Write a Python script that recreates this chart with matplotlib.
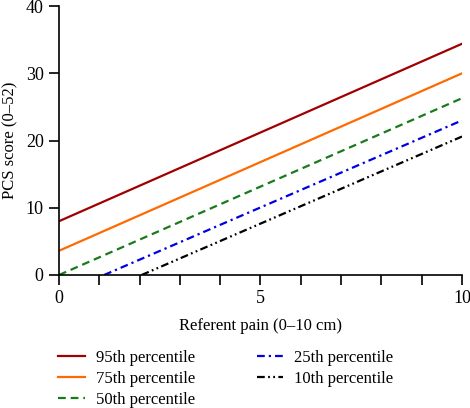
import matplotlib
matplotlib.use("Agg")
import matplotlib.pyplot as plt
from matplotlib.ticker import MultipleLocator

plt.rcParams['font.family'] = ['Liberation Serif', 'DejaVu Serif']

labels = ["95th percentile", "75th percentile", "50th percentile", "25th percentile", "10th percentile"]
x_start = [0.0, 0.0, 0.0, 1.12, 2.05]
y_start = [8.0, 3.6, 0.0, 0.0, 0.0]
x_end = [10.0, 10.0, 10.0, 10.0, 10.0]
y_end = [34.4, 30.0, 26.3, 23.0, 20.6]
colors = ["#a00000", "#ff6a00", "#1a7a1a", "#0000e0", "#000000"]
styles = ["-", "-", (0, (3.5, 2.2)), (0, (3.5, 1.8, 1, 1.8)), (0, (3.5, 1.5, 0.8, 1.5, 0.8, 1.5))]

fig = plt.figure(figsize=(4.7, 4.08), dpi=100)
ax = fig.add_axes([0.1255, 0.326, 0.8575, 0.659])

for i in range(len(labels)):
    ax.plot([x_start[i], x_end[i]], [y_start[i], y_end[i]], color=colors[i],
            linestyle=styles[i], linewidth=1.6, label=labels[i])

ax.set_xlim(0, 10)
ax.set_ylim(0, 40)
ax.set_xticks([0, 5, 10])
ax.xaxis.set_minor_locator(MultipleLocator(1))
ax.set_yticks([0, 10, 20, 30, 40])
for s in ["top", "right"]:
    ax.spines[s].set_visible(False)
for s in ["left", "bottom"]:
    ax.spines[s].set_linewidth(1.2)
ax.tick_params(which="both", direction="out", length=7, width=1.2, labelsize=13, pad=4)
ax.set_xlabel("Referent pain (0–10 cm)", fontsize=12, labelpad=8)
ax.set_ylabel("PCS score (0–52)", fontsize=12, labelpad=5)

h, l = ax.get_legend_handles_labels()
fig.legend(h, l, ncol=2, loc="upper left", bbox_to_anchor=(0.11, 0.158),
           frameon=False, fontsize=12, handlelength=1.6, columnspacing=3.7,
           labelspacing=0.3, handletextpad=0.65, borderaxespad=0)

fig.savefig("out.png", dpi=100)
